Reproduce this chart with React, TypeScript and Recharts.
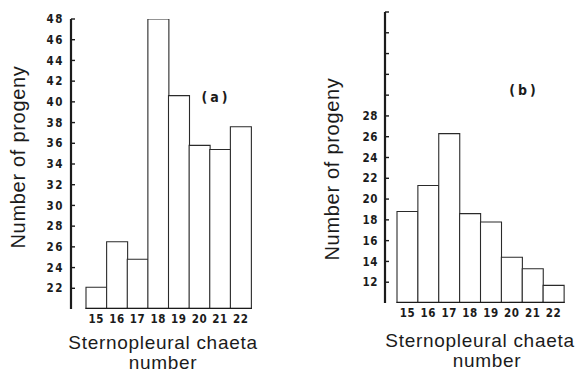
import { BarChart, Bar, XAxis, YAxis, Label, Customized } from 'recharts';

// Sternopleural chaeta number classes (x categories)
const chaetaNumbers = ['15', '16', '17', '18', '19', '20', '21', '22'];

// panel (a) and (b) bar heights
const progenyA = [22.1, 26.5, 24.8, 48, 40.6, 35.8, 35.4, 37.6];
const progenyB = [18.8, 21.3, 26.3, 18.6, 17.8, 14.4, 13.3, 11.7];

const ticksA = [22, 24, 26, 28, 30, 32, 34, 36, 38, 40, 42, 44, 46, 48];
const ticksB = [12, 14, 16, 18, 20, 22, 24, 26, 28, 30, 32, 34, 36, 38];
const lastLabelB = 28; // ticks above this are drawn without numbers

const INK = '#1b1b1b';
const TICK_FONT = '"DejaVu Sans Condensed", "DejaVu Sans", sans-serif';
const TITLE_FONT = '"Liberation Sans", Arial, sans-serif';

const dataA = chaetaNumbers.map((c, i) => ({ chaeta: c, progeny: progenyA[i] }));
const dataB = chaetaNumbers.map((c, i) => ({ chaeta: c, progeny: progenyB[i] }));

// open-topped histogram cell: thin sides, heavier baseline
function OpenBar(props: any) {
  const { x, y, width, height } = props;
  if (height == null || isNaN(height)) return null;
  const b = y + height;
  return (
    <g>
      <path
        d={`M${x},${b} L${x},${y} L${x + width},${y} L${x + width},${b}`}
        fill="#fff"
        stroke="#2a2a2a"
        strokeWidth={1.1}
      />
      <line x1={x - 0.5} y1={b} x2={x + width + 0.5} y2={b} stroke={INK} strokeWidth={2.6} />
    </g>
  );
}

interface PanelProps {
  data: { chaeta: string; progeny: number }[];
  domain: [number, number];
  ticks: number[];
  fmt: (v: number) => string;
  left: number;
  width: number;
  margin: { top: number; right: number; bottom: number; left: number };
  yAxisWidth: number;
  padLeft: number;
  tickSpacing: number;
  yTitle: { x: number; y: number };
  xTitle: { x1: number; y1: number; x2: number; y2: number };
  tag: { text: string; x: number; y: number };
}

function Panel(p: PanelProps) {
  return (
    <div style={{ position: 'absolute', left: p.left, top: 0 }}>
      <BarChart
        width={p.width}
        height={375}
        data={p.data}
        margin={p.margin}
        barCategoryGap={0}
        barGap={0}
      >
        <XAxis
          dataKey="chaeta"
          height={30}
          padding={{ left: p.padLeft, right: 0 }}
          axisLine={false}
          tickLine={false}
          tickSize={0}
          tickMargin={6}
          interval={0}
          tick={{ fill: INK, fontSize: 11.5, fontWeight: 700, fontFamily: TICK_FONT, letterSpacing: 0.6 }}
        >
          <Label
            content={() => (
              <g fill={INK} fontFamily={TITLE_FONT} fontSize={19} letterSpacing={0.7}>
                <text x={p.xTitle.x1} y={p.xTitle.y1} textAnchor="middle" dominantBaseline="central">
                  Sternopleural chaeta
                </text>
                <text x={p.xTitle.x2} y={p.xTitle.y2} textAnchor="middle" dominantBaseline="central">
                  number
                </text>
              </g>
            )}
          />
        </XAxis>
        <YAxis
          type="number"
          domain={p.domain}
          allowDataOverflow
          ticks={p.ticks}
          interval={0}
          width={p.yAxisWidth}
          tickFormatter={p.fmt}
          axisLine={{ stroke: INK, strokeWidth: 2.2 }}
          tickLine={{ stroke: INK, strokeWidth: 1.4 }}
          tickSize={-4}
          tickMargin={11}
          tick={{ fill: INK, fontSize: 11.5, fontWeight: 700, fontFamily: TICK_FONT, letterSpacing: p.tickSpacing }}
        >
          <Label
            content={() => (
              <text
                transform={`translate(${p.yTitle.x},${p.yTitle.y}) rotate(-90)`}
                textAnchor="middle"
                dominantBaseline="central"
                fill={INK}
                fontFamily={TITLE_FONT}
                fontSize={20}
                letterSpacing={0.7}
              >
                Number of progeny
              </text>
            )}
          />
        </YAxis>
        <Bar dataKey="progeny" shape={<OpenBar />} isAnimationActive={false} />
        <Customized
          component={() => (
            <text
              x={p.tag.x}
              y={p.tag.y}
              textAnchor="middle"
              dominantBaseline="central"
              fill={INK}
              fontFamily={TICK_FONT}
              fontWeight={700}
              fontSize={14}
              letterSpacing={3}
            >
              {p.tag.text}
            </text>
          )}
        />
      </BarChart>
    </div>
  );
}

export default function App() {
  return (
    <div style={{ position: 'absolute', left: 0, top: 0, width: 581, height: 375, background: '#fff' }}>
      <Panel
        data={dataA}
        domain={[20, 48]}
        ticks={ticksA}
        fmt={(v) => String(v)}
        left={0}
        width={270}
        margin={{ top: 19, right: 19, bottom: 36, left: 11 }}
        yAxisWidth={60}
        padLeft={15}
        tickSpacing={1.6}
        yTitle={{ x: 18, y: 157 }}
        xTitle={{ x1: 163, y1: 342, x2: 163, y2: 362 }}
        tag={{ text: '(a)', x: 216, y: 97 }}
      />
      <Panel
        data={dataB}
        domain={[10, 38]}
        ticks={ticksB}
        fmt={(v) => (v <= lastLabelB ? String(v) : '')}
        left={290}
        width={291}
        margin={{ top: 12, right: 17, bottom: 42, left: 35 }}
        yAxisWidth={60}
        padLeft={12}
        tickSpacing={0.6}
        yTitle={{ x: 42, y: 169 }}
        xTitle={{ x1: 190, y1: 340, x2: 197, y2: 360 }}
        tag={{ text: '(b)', x: 234, y: 90 }}
      />
    </div>
  );
}
